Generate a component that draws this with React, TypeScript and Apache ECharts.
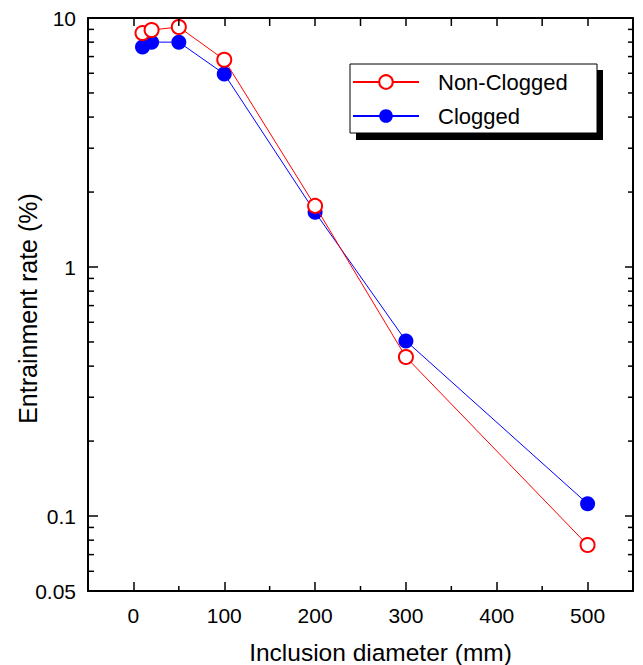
import React, { useEffect, useRef } from "react";
import * as echarts from "echarts";

const diameters = [10, 20, 50, 100, 200, 300, 500];
const nonClogged = [8.7, 8.95, 9.2, 6.8, 1.76, 0.435, 0.0765];
const clogged = [7.65, 8.0, 8.0, 5.96, 1.66, 0.505, 0.112];
const yMinorTicks = [0.06, 0.07, 0.08, 0.09, 0.2, 0.3, 0.4, 0.5, 0.6, 0.7, 0.8, 0.9, 2, 3, 4, 5, 6, 7, 8, 9];
const xMinorTicks = [50, 150, 250, 350, 450];
const xMin = -50;
const xMax = 550;
const yMin = 0.05;
const yMax = 10;

const FONT = "'Liberation Sans', Arial, Helvetica, sans-serif";

export default function App() {
  const ref = useRef<HTMLDivElement>(null);
  useEffect(() => {
    if (!ref.current) return;
    const chart = echarts.init(ref.current, null, { renderer: "svg" });
    const tickStyle = { color: "#000", width: 1.5 };
    const option: any = {
      animation: false,
      backgroundColor: "#fff",
      textStyle: { fontFamily: FONT },
      grid: { left: 88, top: 18, right: 10, bottom: 74, containLabel: false, outerBoundsMode: "none" },
      graphic: [
        { type: "rect", z: 0, shape: { x: 356, y: 70, width: 247, height: 70 }, style: { fill: "#000" } },
        { type: "rect", z: 1, shape: { x: 350, y: 64, width: 247, height: 69 }, style: { fill: "#fff", stroke: "#000", lineWidth: 1 } },
      ],
      legend: {
        data: ["Non-Clogged", "Clogged"],
        orient: "vertical",
        left: 352,
        top: 71,
        padding: 0,
        itemWidth: 66,
        itemHeight: 17,
        itemGap: 12,
        z: 10,
        textStyle: { fontFamily: FONT, fontSize: 22, color: "#000", padding: [0, 0, 0, 14] },
      },
      xAxis: [
        {
          type: "value",
          min: xMin,
          max: xMax,
          position: "bottom",
          name: "Inclusion diameter (mm)",
          nameLocation: "middle",
          nameGap: 49,
          nameMoveOverlap: false,
          nameTextStyle: { fontFamily: FONT, fontSize: 24.5, color: "#000", padding: [0, 0, 0, 40] },
          axisLine: { onZero: false, lineStyle: { color: "#000", width: 2 } },
          axisTick: { inside: true, length: 9, lineStyle: tickStyle },
          axisLabel: {
            fontFamily: FONT,
            fontSize: 21,
            color: "#000",
            margin: 14,
            formatter: (v: number) => (v === xMin || v === xMax ? "" : String(v)),
          },
          splitLine: { show: false },
        },
        {
          type: "value",
          min: xMin,
          max: xMax,
          position: "top",
          axisLine: { onZero: false, lineStyle: { color: "#000", width: 2 } },
          axisTick: { inside: true, length: 8, lineStyle: tickStyle },
          axisLabel: { show: false },
          splitLine: { show: false },
        },
      ],
      yAxis: [
        {
          type: "log",
          logBase: 10,
          min: yMin,
          max: yMax,
          position: "left",
          name: "Entrainment rate (%)",
          nameLocation: "middle",
          nameGap: 48,
          nameMoveOverlap: false,
          nameTextStyle: { fontFamily: FONT, fontSize: 25, color: "#000", padding: [0, 8, 0, 0] },
          axisLine: { onZero: false, lineStyle: { color: "#000", width: 2 } },
          axisTick: { inside: true, length: 10, lineStyle: tickStyle },
          axisLabel: {
            fontFamily: FONT,
            fontSize: 21,
            color: "#000",
            margin: 12,
            formatter: (v: number) => String(Number(Number(v).toPrecision(4))),
          },
          splitLine: { show: false },
        },
        {
          type: "log",
          logBase: 10,
          min: yMin,
          max: yMax,
          position: "right",
          axisLine: { onZero: false, lineStyle: { color: "#000", width: 2 } },
          axisTick: { inside: true, length: 8, lineStyle: tickStyle },
          axisLabel: { show: false },
          splitLine: { show: false },
        },
      ],
      series: [
        {
          name: "Clogged",
          type: "line",
          xAxisIndex: 0,
          yAxisIndex: 0,
          data: diameters.map((d, i) => [d, clogged[i]]),
          symbol: "circle",
          symbolSize: 15,
          lineStyle: { color: "#0000ff", width: 1 },
          itemStyle: { color: "#0000ff" },
          z: 3,
        },
        {
          name: "Non-Clogged",
          type: "line",
          xAxisIndex: 0,
          yAxisIndex: 0,
          data: diameters.map((d, i) => [d, nonClogged[i]]),
          symbol: "emptyCircle",
          symbolSize: 14,
          lineStyle: { color: "#ff0000", width: 1 },
          itemStyle: { color: "#ff0000", borderColor: "#ff0000", borderWidth: 1.5 },
          z: 4,
        },
        {
          name: "yMinor",
          type: "custom",
          xAxisIndex: 0,
          yAxisIndex: 0,
          silent: true,
          clip: false,
          z: 5,
          data: yMinorTicks.map((v) => [0, v]),
          renderItem: (params: any, api: any) => {
            const p = api.coord([api.value(0), api.value(1)]);
            const cs = params.coordSys;
            const st = { stroke: "#000", lineWidth: 1.5 };
            return {
              type: "group",
              children: [
                { type: "line", shape: { x1: cs.x, y1: p[1], x2: cs.x + 6, y2: p[1] }, style: st },
                { type: "line", shape: { x1: cs.x + cs.width, y1: p[1], x2: cs.x + cs.width - 5, y2: p[1] }, style: st },
              ],
            };
          },
        },
        {
          name: "xMinor",
          type: "custom",
          xAxisIndex: 0,
          yAxisIndex: 0,
          silent: true,
          clip: false,
          z: 5,
          data: xMinorTicks.map((v) => [v, 1]),
          renderItem: (params: any, api: any) => {
            const p = api.coord([api.value(0), api.value(1)]);
            const cs = params.coordSys;
            const st = { stroke: "#000", lineWidth: 1.5 };
            return {
              type: "group",
              children: [
                { type: "line", shape: { x1: p[0], y1: cs.y + cs.height, x2: p[0], y2: cs.y + cs.height - 5 }, style: st },
                { type: "line", shape: { x1: p[0], y1: cs.y, x2: p[0], y2: cs.y + 8 }, style: st },
              ],
            };
          },
        },
      ],
    };
    chart.setOption(option);
    return () => chart.dispose();
  }, []);
  return <div ref={ref} style={{ position: "absolute", left: 0, top: 0, width: 643, height: 665 }} />;
}
